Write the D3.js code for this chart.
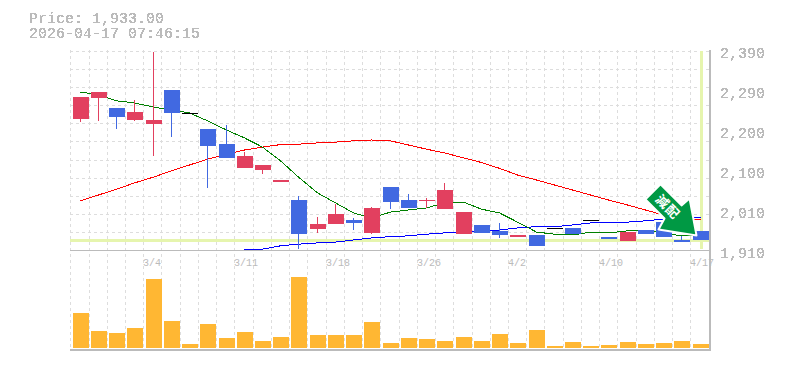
<!DOCTYPE html>
<html>
<head>
<meta charset="utf-8">
<title>Price chart</title>
<script src="https://cdn.jsdelivr.net/npm/d3@7"></script>
<style>
	html, body { margin: 0; padding: 0; background: #fff; }
	svg { display: block; }
	.mono { font-family: "Liberation Mono", "DejaVu Sans Mono", monospace; fill: #bbb; }
</style>
</head>
<body>
<div id="chart"></div>
<script>
var titleLines = ['Price: 1,933.00', '2026-04-17 07:46:15']
var lastPrice = 1933

var opens = [2224,2275,2251,2222,2212,2294,2240,2200,2164,2107,2102,2073,2030,1960,1972,1982,1951,2061,2030,2028,2008,1948,1970,1956,1941,1946,1963,1963,1982,1941,1932,1958,1977,1934,1956]
var closes = [2277,2289,2229,2241,2222,2239,2240,2160,2131,2136,2114,2078,1948,1972,1996,1975,2011,2025,2011,2030,2054,2001,1951,1946,1946,1920,1963,1948,1982,1936,1953,1948,1941,1929,1933]
var highs = [2277,2289,2251,2270,2385,2294,2240,2200,2210,2145,2114,2078,2040,1989,2020,1987,2013,2061,2044,2035,2071,2001,1970,1975,1946,1946,1963,1963,1982,1941,1953,1958,1977,1944,1956]
var lows = [2218,2220,2200,2220,2136,2181,2240,2059,2131,2107,2092,2073,1912,1951,1972,1958,1948,2008,2011,2011,2008,1948,1951,1939,1941,1920,1963,1948,1982,1936,1932,1948,1941,1929,1933]
var volumes = [35,17,15,20,69,27,4,24,10,16,7,11,71,13,13,13,26,5,10,9,7,11,7,14,5,18,2,6,2,3,6,4,5,7,4]

var maShort = [2289,2283,2268,2263,2253,2246,2239,2220,2198,2179,2157,2124,2085,2047,2023,1999,1987,2001,2006,2011,2023,2025,2008,1999,1977,1953,1948,1946,1953,1951,1956,1956,1951,1944,1944]
var maLong = [2028,2042,2056,2071,2085,2100,2114,2128,2140,2150,2157,2163,2164,2167,2169,2172,2174,2172,2162,2152,2143,2131,2120,2106,2090,2078,2066,2054,2042,2030,2018,2006,1994,1987,1982]
var maMid = [null,null,null,null,null,null,null,null,null,1910,1912,1920,1924,1927,1929,1934,1939,1942,1944,1948,1951,1953,1956,1958,1963,1966,1966,1970,1975,1977,1977,1980,1984,1987,1989]

var dateTicks = [4, 9, 14, 19, 24, 29, 34]
var dateLabels = ['3/4', '3/11', '3/18', '3/26', '4/2', '4/10', '4/17']
var priceTicks = [2390, 2294, 2198, 2102, 2006, 1910]
var priceLabels = ['2,390', '2,290', '2,200', '2,100', '2,010', '1,910']

var width = 785
var height = 370
var indexes = d3.range(opens.length)

var x = d3.scaleBand()
	.domain(indexes)
	.range([70.5, 708.8])
	.paddingInner(0.12)
	.paddingOuter(0.06)
var cx = function(i) { return Math.round(x(i) + x.bandwidth() / 2) + 0.5 }
var gridX = function(i) { return Math.round(70.3 + i * x.step()) }

var y = d3.scaleLinear().domain([1910, 2390]).range([250, 50])
var yVol = d3.scaleLinear().domain([0, 100]).range([348, 248])

var svg = d3.select('#chart').append('svg')
	.attr('width', width)
	.attr('height', height)

// threshold alpha so the text comes out aliased like the original
var sharp = svg.append('defs').append('filter')
	.attr('id', 'sharp')
	.attr('color-interpolation-filters', 'sRGB')
sharp.append('feComponentTransfer').append('feFuncA')
	.attr('type', 'discrete')
	.attr('tableValues', '0 1 1')

svg.append('clipPath').attr('id', 'plot').append('rect')
	.attr('x', 70).attr('y', 50).attr('width', 640).attr('height', 200)

// grid
var grid = svg.append('g')
	.attr('stroke', '#ddd')
	.attr('stroke-dasharray', '3,3')
	.attr('shape-rendering', 'crispEdges')
d3.range(11).forEach(function(i) {
	var gy = Math.round(50.5 + i * 200 / 11)
	grid.append('line').attr('x1', 70).attr('x2', 710).attr('y1', gy + 0.5).attr('y2', gy + 0.5)
})
d3.range(36).forEach(function(i) {
	grid.append('line').attr('x1', gridX(i) + 0.5).attr('x2', gridX(i) + 0.5).attr('y1', 50).attr('y2', 350)
})

// last price markers
var mark = svg.append('g')
	.attr('stroke', '#e6f5ae')
	.attr('shape-rendering', 'crispEdges')
mark.append('line')
	.attr('x1', 70).attr('x2', 709)
	.attr('y1', y(lastPrice)).attr('y2', y(lastPrice))
	.attr('stroke-width', 3)
mark.append('line')
	.attr('x1', cx(34) + 0.5).attr('x2', cx(34) + 0.5)
	.attr('y1', 51).attr('y2', 249)
	.attr('stroke-width', 3)

// moving averages
var line = d3.line()
	.defined(function(d) { return d != null })
	.x(function(d, i) { return cx(i) })
	.y(function(d) { return y(d) })
var lines = svg.append('g')
	.attr('clip-path', 'url(#plot)')
	.attr('fill', 'none')
	.attr('shape-rendering', 'crispEdges')
lines.append('path').attr('d', line(maLong)).attr('stroke', '#f00')
lines.append('path').attr('d', line(maMid)).attr('stroke', '#00f')
lines.append('path').attr('d', line(maShort)).attr('stroke', '#008000')

// candles
var candleColor = function(i) {
	if (opens[i] == closes[i]) return '#000'
	return closes[i] > opens[i] ? '#e2405f' : '#4169e1'
}
var candles = svg.append('g')
	.attr('clip-path', 'url(#plot)')
	.attr('shape-rendering', 'crispEdges')
candles.selectAll('line').data(indexes).join('line')
	.attr('x1', cx).attr('x2', cx)
	.attr('y1', function(i) { return y(highs[i]) })
	.attr('y2', function(i) { return y(lows[i]) })
	.attr('stroke', candleColor)
candles.selectAll('rect').data(indexes).join('rect')
	.attr('x', function(i) { return cx(i) - 8 })
	.attr('width', 16)
	.attr('y', function(i) { return y(Math.max(opens[i], closes[i])) })
	.attr('height', function(i) { return Math.max(1, Math.abs(y(opens[i]) - y(closes[i]))) })
	.attr('fill', candleColor)

// volume
svg.append('g').attr('shape-rendering', 'crispEdges')
	.selectAll('rect').data(indexes).join('rect')
	.attr('x', function(i) { return cx(i) - 8 })
	.attr('width', 16)
	.attr('y', function(i) { return yVol(volumes[i]) })
	.attr('height', function(i) { return yVol(0) - yVol(volumes[i]) })
	.attr('fill', '#ffb733')

// frame
var frame = svg.append('g')
	.attr('stroke', '#bbb')
	.attr('shape-rendering', 'crispEdges')
frame.append('line').attr('x1', 70).attr('x2', 710).attr('y1', 250).attr('y2', 250).attr('stroke-width', 1)
frame.append('line').attr('x1', 70).attr('x2', 711).attr('y1', 350).attr('y2', 350).attr('stroke-width', 2)
frame.append('line').attr('x1', 710).attr('x2', 710).attr('y1', 50).attr('y2', 351).attr('stroke-width', 2)

// text
svg.append('g').selectAll('text').data(titleLines).join('text')
	.attr('class', 'mono')
	.attr('filter', 'url(#sharp)')
	.attr('x', 29)
	.attr('y', function(d, i) { return 23 + i * 15 })
	.attr('font-size', 15)
	.text(function(d) { return d })

svg.append('g').selectAll('text').data(priceTicks).join('text')
	.attr('class', 'mono')
	.attr('filter', 'url(#sharp)')
	.attr('x', 720)
	.attr('y', function(d) { return y(d) + 8 })
	.attr('font-size', 15)
	.text(function(d, i) { return priceLabels[i] })

svg.append('g').selectAll('text').data(dateTicks).join('text')
	.attr('class', 'mono')
	.attr('x', gridX)
	.attr('y', 266)
	.attr('font-size', 10)
	.text(function(d, i) { return dateLabels[i] })

// arrow pointing at the last candle
var arrow = svg.append('g')
	.attr('transform', 'translate(' + (cx(34) - 4) + ',' + (y(lastPrice) - 5) + ')')
arrow.append('path')
	.attr('d', 'M-36,-51L-51,-36L-32,-17L-38,-6L0,0L-7,-37L-15,-30Z')
	.attr('fill', '#009944')
	.attr('stroke', '#fff')
	.attr('stroke-width', 2)
	.attr('stroke-linejoin', 'round')
arrow.selectAll('text').data(['減', '配']).join('text')
	.attr('transform', function(d, i) {
		return 'translate(' + (-34 + i * 10) + ',' + (-34 + i * 10) + ') rotate(45)'
	})
	.attr('text-anchor', 'middle')
	.attr('dy', '0.38em')
	.attr('font-family', '"Noto Sans CJK JP"')
	.attr('font-weight', 'bold')
	.attr('font-size', 13)
	.attr('fill', '#fff')
	.text(function(d) { return d })
</script>
</body>
</html>
